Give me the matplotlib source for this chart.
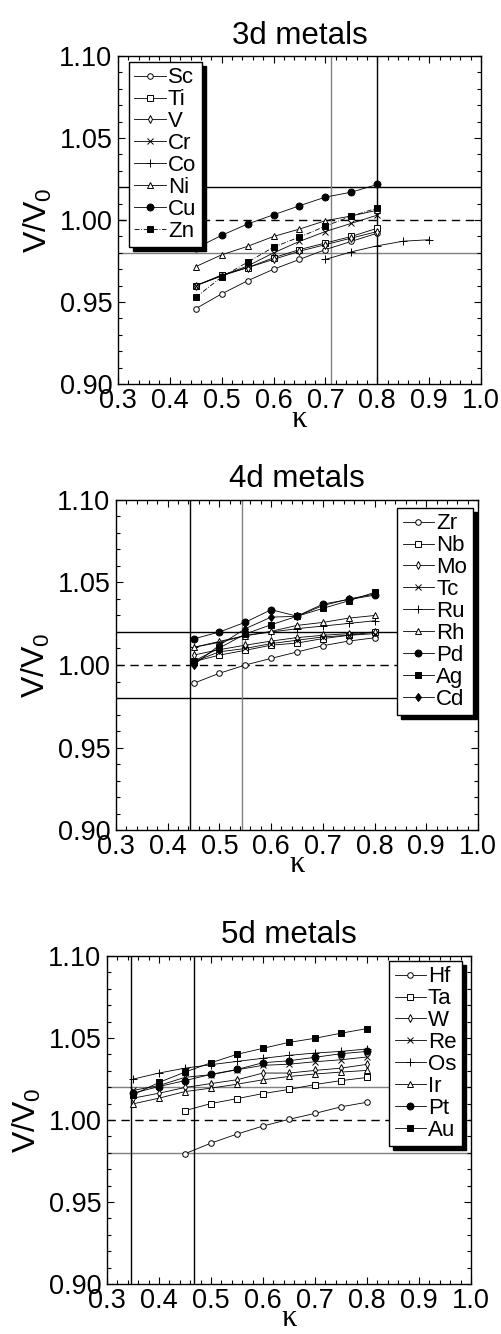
import numpy as np
import matplotlib
matplotlib.use("Agg")
import matplotlib.pyplot as plt
from matplotlib.ticker import MultipleLocator, FormatStrFormatter

plt.rcParams['font.family'] = ['Liberation Sans', 'DejaVu Sans']

# ---- data ----
kappa_3d = [0.45, 0.50, 0.55, 0.60, 0.65, 0.70, 0.75, 0.80]
kappa_co = [0.70, 0.75, 0.80, 0.85, 0.90]
Sc = [0.946, 0.955, 0.963, 0.970, 0.976, 0.982, 0.987, 0.992]
Ti = [0.960, 0.9665, 0.971, 0.977, 0.982, 0.986, 0.990, 0.995]
V = [0.960, 0.966, 0.971, 0.976, 0.981, 0.985, 0.989, 0.993]
Cr = [0.960, 0.966, 0.972, 0.980, 0.987, 0.993, 0.998, 1.003]
Co = [0.976, 0.9806, 0.9843, 0.9871, 0.988]
Ni = [0.9716, 0.9788, 0.984, 0.990, 0.9945, 0.9996, 1.0025, 1.006]
Cu = [0.9828, 0.9907, 0.9976, 1.0032, 1.0087, 1.014, 1.017, 1.0217]
Zn = [0.9529, 0.9653, 0.9743, 0.9835, 0.9896, 0.9963, 1.0024, 1.0073]

kappa_4d = [0.45, 0.50, 0.55, 0.60, 0.65, 0.70, 0.75, 0.80]
Zr = [0.9889, 0.995, 1.000, 1.004, 1.0079, 1.0117, 1.0145, 1.0165]
Nb = [1.002, 1.006, 1.0089, 1.012, 1.0133, 1.016, 1.018, 1.020]
Mo = [1.006, 1.0093, 1.012, 1.0145, 1.0166, 1.018, 1.019, 1.020]
Tc = [1.002, 1.008, 1.010, 1.013, 1.015, 1.017, 1.018, 1.019]
Ru = [1.0107, 1.0137, 1.0178, 1.020, 1.022, 1.0236, 1.0252, 1.0268]
Rh = [1.0107, 1.0143, 1.0178, 1.0204, 1.024, 1.0258, 1.0284, 1.030]
Pd = [1.0158, 1.020, 1.0259, 1.0335, 1.0296, 1.0369, 1.0397, 1.0423]
Ag = [1.0022, 1.0103, 1.0188, 1.0244, 1.0295, 1.0343, 1.0389, 1.044]
Cd = [1.000, 1.012, 1.022, 1.029, 1.0295, 1.036, 1.040, 1.043]

kappa_5d = [0.35, 0.40, 0.45, 0.50, 0.55, 0.60, 0.65, 0.70, 0.75, 0.80]
kappa_5d_short = kappa_5d[2:]
Hf = [0.9794, 0.9859, 0.9914, 0.9963, 1.0004, 1.004, 1.008, 1.0108]
Ta = [1.0057, 1.010, 1.013, 1.0161, 1.0186, 1.0216, 1.024, 1.0259]
W = [1.0133, 1.0163, 1.0198, 1.0222, 1.0245, 1.0286, 1.0286, 1.0302, 1.0316, 1.0339]
Re = [1.018, 1.021, 1.026, 1.0276, 1.0306, 1.0333, 1.034, 1.0355, 1.0367, 1.0384]
Os = [1.0249, 1.0286, 1.0316, 1.0337, 1.0357, 1.0376, 1.0394, 1.0408, 1.0418, 1.0433]
Ir = [1.0098, 1.0133, 1.0173, 1.0194, 1.0218, 1.0245, 1.0265, 1.028, 1.0292, 1.0302]
Pt = [1.0163, 1.0204, 1.024, 1.0278, 1.0308, 1.0349, 1.0361, 1.0382, 1.0404, 1.0418]
Au = [1.0153, 1.0229, 1.0292, 1.0349, 1.04, 1.0437, 1.0473, 1.0498, 1.0529, 1.0557]

# reference lines: (value, colour)
hlines_3d = [(1.02, 'black'), (0.98, 'gray')]
vlines_3d = [(0.71, 'gray'), (0.80, 'black')]
hlines_4d = [(1.02, 'black'), (0.98, 'black')]
vlines_4d = [(0.443, 'black'), (0.544, 'gray')]
hlines_5d = [(1.02, 'gray'), (0.98, 'gray')]
vlines_5d = [(0.346, 'black'), (0.468, 'black')]

# marker styles: (marker, filled, size)
styles = {
    'o': ('o', False, 4), 's': ('s', False, 4), 'd': ('d', False, 4),
    'x': ('x', False, 4.5), '+': ('+', False, 6), '^': ('^', False, 4.5),
    'O': ('o', True, 5), 'S': ('s', True, 5), 'D': ('d', True, 4.5),
}

panels = [
    dict(title='3d metals', pos=[0.2355, 0.7121, 0.7246, 0.2459],
         series=[(kappa_3d, Sc, 'Sc', 'o'), (kappa_3d, Ti, 'Ti', 's'),
                 (kappa_3d, V, 'V', 'd'), (kappa_3d, Cr, 'Cr', 'x'),
                 (kappa_co, Co, 'Co', '+'), (kappa_3d, Ni, 'Ni', '^'),
                 (kappa_3d, Cu, 'Cu', 'O'), (kappa_3d, Zn, 'Zn', 'S')],
         hl=hlines_3d, vl=vlines_3d,
         leg=dict(loc='upper left', bbox_to_anchor=(0.03, 0.982))),
    dict(title='4d metals', pos=[0.2315, 0.3778, 0.7226, 0.2474],
         series=[(kappa_4d, Zr, 'Zr', 'o'), (kappa_4d, Nb, 'Nb', 's'),
                 (kappa_4d, Mo, 'Mo', 'd'), (kappa_4d, Tc, 'Tc', 'x'),
                 (kappa_4d, Ru, 'Ru', '+'), (kappa_4d, Rh, 'Rh', '^'),
                 (kappa_4d, Pd, 'Pd', 'O'), (kappa_4d, Ag, 'Ag', 'S'),
                 (kappa_4d, Cd, 'Cd', 'D')],
         hl=hlines_4d, vl=vlines_4d,
         leg=dict(loc='upper right', bbox_to_anchor=(0.985, 0.976))),
    dict(title='5d metals', pos=[0.2136, 0.0375, 0.7265, 0.2459],
         series=[(kappa_5d_short, Hf, 'Hf', 'o'), (kappa_5d_short, Ta, 'Ta', 's'),
                 (kappa_5d, W, 'W', 'd'), (kappa_5d, Re, 'Re', 'x'),
                 (kappa_5d, Os, 'Os', '+'), (kappa_5d, Ir, 'Ir', '^'),
                 (kappa_5d, Pt, 'Pt', 'O'), (kappa_5d, Au, 'Au', 'S')],
         hl=hlines_5d, vl=vlines_5d,
         leg=dict(loc='upper right', bbox_to_anchor=(0.975, 0.985))),
]

fig = plt.figure(figsize=(5.01, 13.34), dpi=100)

for p in panels:
    ax = fig.add_axes(p['pos'])
    ax.axhline(1.0, color='black', lw=1.0, ls=(0, (6, 4)), zorder=1)
    for val, col in p['hl']:
        ax.axhline(val, color=col, lw=1.0, zorder=1)
    for val, col in p['vl']:
        ax.axvline(val, color=col, lw=1.0, zorder=1)

    for xs, ys, name, key in p['series']:
        m, filled, ms = styles[key]
        ls = (0, (6, 2, 1, 2)) if name == 'Zn' else '-'
        ax.plot(xs, ys, ls=ls, color='black', lw=0.6, marker=m, ms=ms,
                mfc='black' if filled else 'white', mec='black', mew=0.7,
                label=name, zorder=3)

    ax.set_xlim(0.3, 1.0)
    ax.set_ylim(0.90, 1.10)
    ax.xaxis.set_major_locator(MultipleLocator(0.1))
    ax.xaxis.set_minor_locator(MultipleLocator(0.02))
    ax.yaxis.set_major_locator(MultipleLocator(0.05))
    ax.yaxis.set_minor_locator(MultipleLocator(0.01))
    ax.xaxis.set_major_formatter(FormatStrFormatter('%.1f'))
    ax.yaxis.set_major_formatter(FormatStrFormatter('%.2f'))
    ax.tick_params(which='both', direction='in', top=True, right=True, width=0.8)
    ax.tick_params(which='major', length=5, labelsize=19.5)
    ax.tick_params(axis='x', which='major', pad=3)
    ax.tick_params(axis='y', which='major', pad=4)
    ax.tick_params(which='minor', length=3)
    for s in ax.spines.values():
        s.set_linewidth(1.0)

    ax.set_title(p['title'], fontsize=22.5, pad=9)
    ax.set_xlabel('κ', fontsize=22, family=['Liberation Serif', 'DejaVu Serif'], labelpad=-7)
    ax.set_ylabel(r'V/V$_\mathregular{0}$', fontsize=23, labelpad=4)

    leg = ax.legend(fontsize=16, frameon=True, fancybox=False, edgecolor='black',
                    framealpha=1, shadow={'color': 'black', 'alpha': 1, 'ox': 3, 'oy': -3},
                    handlelength=1.4, handletextpad=0.1, labelspacing=0.04,
                    borderpad=0.25, borderaxespad=0, **p['leg'])
    leg.get_frame().set_linewidth(1.0)
    leg.set_zorder(5)

fig.savefig('out.png', dpi=100)
